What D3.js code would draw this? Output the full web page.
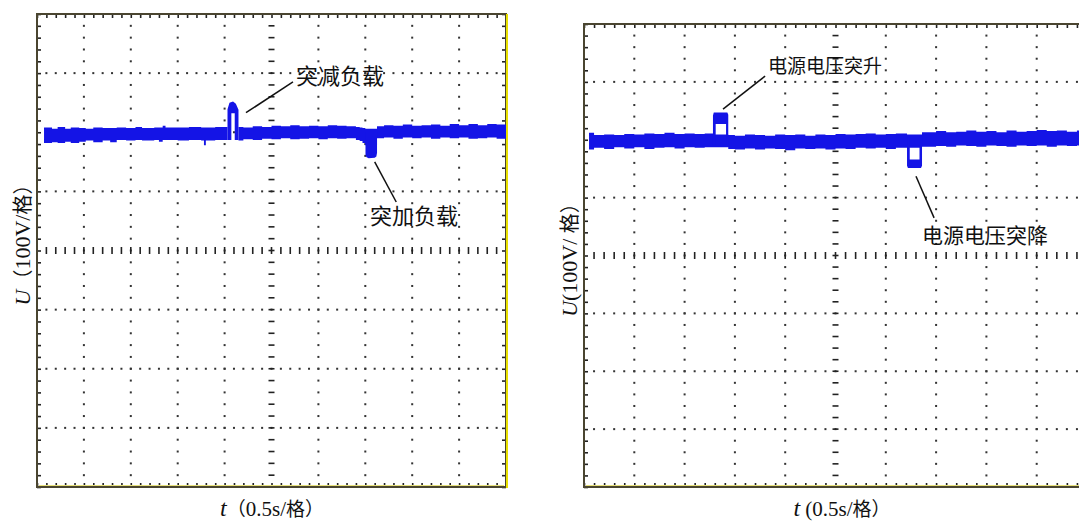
<!DOCTYPE html>
<html>
<head>
<meta charset="utf-8">
<script src="https://cdn.jsdelivr.net/npm/d3@7"></script>
<style>
  body { margin: 0; background: #fff; }
  svg { display: block; }
</style>
</head>
<body>
<div id="chart"></div>
<script>
// scope screen: 10 divisions x 0.5 s, 8 divisions x 100 V
const timeDomain = [0, 5];
const voltDomain = [-400, 400];

// noisy trace band: [t (s), low (V), high (V)], null row = gap
const loadBand = [
  [0.075, 182, 208], [0.16, 183, 206], [0.22, 182, 209], [0.30, 184, 206],
  [0.36, 182, 208], [0.45, 184, 207], [0.52, 186, 206], [0.60, 183, 208],
  [0.70, 186, 207], [0.78, 183, 207], [0.85, 187, 208], [0.95, 186, 207],
  [1.05, 187, 209], [1.12, 186, 207], [1.25, 187, 208], [1.30, 184, 208],
  [1.34, 187, 211], [1.37, 187, 208], [1.50, 186, 208], [1.62, 187, 209],
  [1.75, 186, 208], [1.78, 178, 208], [1.80, 186, 208], [1.90, 187, 209],
  [2.031, 187, 209], [2.04, null, null],
  [2.148, 186, 209], [2.20, 188, 208], [2.30, 187, 210], [2.40, 189, 209],
  [2.50, 188, 211], [2.60, 190, 210], [2.70, 188, 212], [2.80, 189, 210],
  [2.90, 190, 211], [3.00, 188, 210], [3.10, 190, 212], [3.20, 189, 211],
  [3.30, 190, 210], [3.40, 187, 209], [3.44, 185, 208], [3.47, 182, 207],
  [3.50, 178, 206], [3.625, 190, 210], [3.70, 191, 212], [3.80, 189, 211],
  [3.90, 191, 213], [4.00, 190, 211], [4.10, 191, 212], [4.20, 189, 213],
  [4.30, 191, 211], [4.40, 190, 214], [4.50, 191, 212], [4.60, 189, 214],
  [4.70, 190, 212], [4.80, 191, 214], [4.90, 189, 213], [5.00, 190, 213]
];
// event outlines [t, V]: load removed (overshoot), load added (sag)
const loadEvents = [
  [[2.031, 187], [2.031, 239], [2.052, 250], [2.09, 252], [2.12, 248], [2.148, 238],
   [2.148, 187], [2.108, 187], [2.108, 232], [2.072, 232], [2.072, 187]],
  [[3.502, 200], [3.502, 163], [3.51, 158], [3.535, 156], [3.60, 157], [3.618, 159],
   [3.625, 165], [3.625, 200]]
];
const loadNotes = [
  { text: "突减负载", at: [2.76, 294], from: [2.228, 233], to: [2.729, 285], size: 22 },
  { text: "突加负载", at: [3.55, 58], from: [3.60, 150], to: [3.83, 82], size: 22 }
];

const supplyBand = [
  [0.05, 183, 212], [0.10, 186, 208], [0.20, 184, 209], [0.30, 187, 208],
  [0.40, 185, 210], [0.50, 187, 209], [0.60, 184, 211], [0.70, 186, 210],
  [0.80, 187, 212], [0.90, 185, 210], [1.00, 187, 211], [1.10, 186, 210],
  [1.20, 187, 211], [1.30, 187, 209], [1.434, 184, 208], [1.50, 183, 207],
  [1.60, 185, 209], [1.70, 183, 208], [1.80, 185, 207], [1.90, 184, 209],
  [2.00, 182, 208], [2.10, 185, 209], [2.20, 184, 207], [2.30, 185, 209],
  [2.40, 183, 208], [2.50, 185, 210], [2.60, 184, 209], [2.70, 186, 210],
  [2.80, 185, 211], [2.90, 186, 209], [3.00, 184, 210], [3.10, 186, 211],
  [3.211, 186, 209], [3.36, 188, 213], [3.50, 189, 215], [3.60, 188, 213],
  [3.70, 190, 214], [3.80, 189, 216], [3.90, 188, 214], [4.00, 190, 215],
  [4.10, 189, 213], [4.20, 188, 216], [4.30, 190, 214], [4.40, 189, 215],
  [4.50, 190, 217], [4.60, 188, 215], [4.70, 190, 216], [4.80, 189, 214],
  [4.90, 190, 216], [5.00, 190, 215]
];
const supplyEvents = [
  [[1.282, 191], [1.282, 242], [1.29, 247], [1.425, 247], [1.434, 243], [1.434, 191],
   [1.412, 191], [1.412, 227], [1.309, 227], [1.309, 191]],
  [[3.211, 205], [3.211, 155], [3.22, 151], [3.35, 151], [3.36, 155], [3.36, 205],
   [3.335, 205], [3.335, 166], [3.238, 166], [3.238, 205]]
];
const supplyNotes = [
  { text: "电源电压突升", at: [1.83, 327], from: [1.382, 253], to: [1.80, 310], size: 19 },
  { text: "电源电压突降", at: [3.36, 35], from: [3.30, 137], to: [3.48, 65], size: 21 }
];

const W = 1079, H = 521;
const blue = "#1414e6";
const cjk = "'Noto Sans CJK SC', sans-serif";
const serif = "'Liberation Serif', 'Times New Roman', serif";

const svg = d3.select("#chart").append("svg")
  .attr("width", W).attr("height", H)
  .attr("viewBox", [0, 0, W, H]);

// label pieces: [text, font, size, italic]
const panels = [
  { left: 37, right: 506, top: 14, bottom: 487, band: loadBand, events: loadEvents, notes: loadNotes,
    tx: 272, yl: [30, 240], yellowEdge: true,
    tParts: [["t", "serif", 24, true], ["（", "cjk", 19], ["0.5s/", "serif", 21], ["格）", "cjk", 19]],
    uParts: [["U", "serif", 22, true], ["（", "cjk", 20], ["100V/", "serif", 22], ["格）", "cjk", 20]] },
  { left: 584, right: 1087, top: 24, bottom: 487, band: supplyBand, events: supplyEvents, notes: supplyNotes,
    tx: 842, yl: [577, 255], yellowEdge: false,
    tParts: [["t", "serif", 24, true], [" (0.5s/", "serif", 21], ["格）", "cjk", 19]],
    uParts: [["U", "serif", 22, true], ["(100V/ ", "serif", 22], ["格）", "cjk", 20]] }
];

panels.forEach(drawPanel);

function drawPanel(p) {
  const x = d3.scaleLinear().domain(timeDomain).range([p.left, p.right]);
  const y = d3.scaleLinear().domain(voltDomain).range([p.bottom, p.top]);
  const g = svg.append("g");

  const xMajor = x.ticks(10), yMajor = y.ticks(8);
  const xMinor = x.ticks(50), yMinor = y.ticks(40);
  const tMid = (timeDomain[0] + timeDomain[1]) / 2;
  const inner = (arr, dom) => arr.filter(d => d > dom[0] && d < dom[1]);

  // dotted graticule
  const dots = [];
  inner(xMajor, timeDomain).filter(t => t !== tMid).forEach(t =>
    inner(yMinor, voltDomain).forEach(v => dots.push([t, v])));
  inner(yMajor, voltDomain).filter(v => v !== 0).forEach(v =>
    inner(xMinor, timeDomain).forEach(t => dots.push([t, v])));
  g.append("g").attr("fill", "#333")
    .selectAll("rect").data(dots).join("rect")
      .attr("x", d => x(d[0]) - 1).attr("y", d => y(d[1]) - 1)
      .attr("width", 2).attr("height", 2);

  // centre cross with minor dashes
  const cross = g.append("g").attr("stroke", "#222").attr("stroke-width", 1.6);
  cross.selectAll("line.h").data(inner(xMinor, timeDomain)).join("line")
    .attr("x1", d => x(d)).attr("x2", d => x(d))
    .attr("y1", y(0) - 3.5).attr("y2", y(0) + 3.5);
  cross.selectAll("line.v").data(inner(yMinor, voltDomain)).join("line")
    .attr("y1", d => y(d)).attr("y2", d => y(d))
    .attr("x1", x(tMid) - 3).attr("x2", x(tMid) + 3);

  // border ticks pointing inward
  const noDomain = s => s.select(".domain").remove();
  const tickStyle = s => s.selectAll("line").attr("stroke", "#222").attr("stroke-width", 1.6);
  g.append("g").attr("transform", `translate(0,${p.top})`)
    .call(d3.axisTop(x).ticks(50).tickSize(-4).tickFormat("")).call(noDomain).call(tickStyle);
  g.append("g").attr("transform", `translate(0,${p.bottom})`)
    .call(d3.axisBottom(x).ticks(50).tickSize(-4).tickFormat("")).call(noDomain).call(tickStyle);
  g.append("g").attr("transform", `translate(${p.left},0)`)
    .call(d3.axisRight(y).ticks(40).tickSize(4).tickFormat("")).call(noDomain).call(tickStyle);
  g.append("g").attr("transform", `translate(${p.right},0)`)
    .call(d3.axisLeft(y).ticks(40).tickSize(4).tickFormat("")).call(noDomain).call(tickStyle);

  // frame
  g.append("rect")
    .attr("x", p.left).attr("y", p.top)
    .attr("width", p.right - p.left).attr("height", p.bottom - p.top)
    .attr("fill", "none").attr("stroke", "#4a4530").attr("stroke-width", 2);
  g.append("line")
    .attr("x1", p.left + 2).attr("x2", p.right - 2)
    .attr("y1", p.bottom - 1.5).attr("y2", p.bottom - 1.5)
    .attr("stroke", "#e6e07a").attr("stroke-width", 1);
  if (p.yellowEdge) {
    g.append("line")
      .attr("x1", p.right + 1).attr("x2", p.right + 1)
      .attr("y1", p.top).attr("y2", p.bottom + 1)
      .attr("stroke", "#e8e000").attr("stroke-width", 2);
  }

  // trace
  const band = d3.area()
    .defined(d => d[1] != null)
    .x(d => x(d[0])).y0(d => y(d[1])).y1(d => y(d[2]))
    .curve(d3.curveStepAfter);
  g.append("path").datum(p.band).attr("d", band).attr("fill", blue);

  const outline = d3.line().x(d => x(d[0])).y(d => y(d[1]));
  g.selectAll("path.event").data(p.events).join("path")
    .attr("class", "event")
    .attr("d", d => outline(d) + "Z")
    .attr("fill", blue);

  // annotations
  g.selectAll("line.lead").data(p.notes).join("line")
    .attr("class", "lead")
    .attr("x1", d => x(d.from[0])).attr("y1", d => y(d.from[1]))
    .attr("x2", d => x(d.to[0])).attr("y2", d => y(d.to[1]))
    .attr("stroke", "#111").attr("stroke-width", 1.5);
  g.selectAll("text.note").data(p.notes).join("text")
    .attr("class", "note")
    .attr("x", d => x(d.at[0])).attr("y", d => y(d.at[1]))
    .attr("dy", "0.35em")
    .attr("font-family", cjk).attr("font-size", d => d.size)
    .attr("fill", "#111")
    .text(d => d.text);

  // axis titles
  const addParts = (text, parts) => parts.forEach(([s, f, size, it]) =>
    text.append("tspan")
      .attr("font-family", f === "cjk" ? cjk : serif)
      .attr("font-size", size)
      .attr("font-style", it ? "italic" : "normal")
      .text(s));

  const tl = g.append("text")
    .attr("x", p.tx).attr("y", 516)
    .attr("text-anchor", "middle").attr("fill", "#111")
    .attr("xml:space", "preserve");
  addParts(tl, p.tParts);

  const ul = g.append("text")
    .attr("transform", `translate(${p.yl[0]},${p.yl[1]}) rotate(-90)`)
    .attr("text-anchor", "middle").attr("fill", "#111")
    .attr("xml:space", "preserve");
  addParts(ul, p.uParts);
}
</script>
</body>
</html>
